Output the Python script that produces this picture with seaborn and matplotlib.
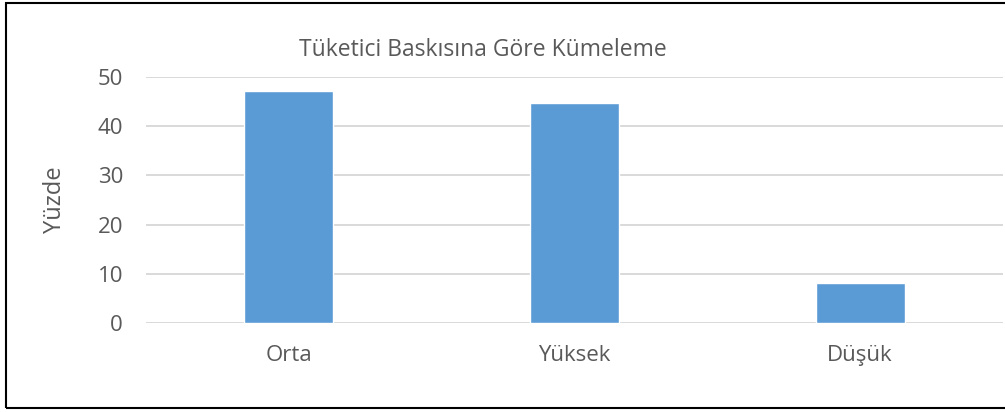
import matplotlib
matplotlib.use("Agg")
import matplotlib.pyplot as plt
import seaborn as sns
import pandas as pd
from matplotlib.patches import Rectangle

# chart data
categories = ["Orta", "Yüksek", "Düşük"]
values = [47.2, 44.7, 8.1]
yticks = [0, 10, 20, 30, 40, 50]

df = pd.DataFrame({"Grup": categories, "Yüzde": values})

sns.set_style("white")
plt.rcParams["font.family"] = ["Open Sans", "DejaVu Sans"]

fig = plt.figure(figsize=(10.05, 4.12), dpi=100)
ax = fig.add_axes([146 / 1005, 1 - 323 / 412, (1003 - 146) / 1005, (323 - 77) / 412])

sns.barplot(data=df, x="Grup", y="Yüzde", color="#5B9BD5", width=0.312,
            saturation=1, ax=ax, zorder=3)

ax.set_ylim(0, 50)
ax.set_yticks(yticks)
ax.set_xlim(-0.5, 2.5)
ax.yaxis.grid(True, color="#D9D9D9", linewidth=1.4, zorder=0)
ax.set_axisbelow(True)
for s in ax.spines.values():
    s.set_visible(False)
ax.tick_params(axis="both", length=0, labelsize=16, labelcolor="#595959")
ax.tick_params(axis="y", pad=16.5)
ax.tick_params(axis="x", pad=16)
ax.set_xlabel("")
ax.set_ylabel("Yüzde", fontsize=17, color="#595959", labelpad=22)

fig.text(483 / 1005, 1 - 50 / 412, "Tüketici Baskısına Göre Kümeleme",
         ha="center", va="center", fontsize=16.5, color="#595959")

# border around the chart
fig.patches.append(Rectangle((6 / 1005, 4 / 412), 1.2, 1 - 7 / 412,
                             transform=fig.transFigure, fill=False,
                             edgecolor="black", linewidth=1.5))

fig.savefig("out.png", dpi=100)
